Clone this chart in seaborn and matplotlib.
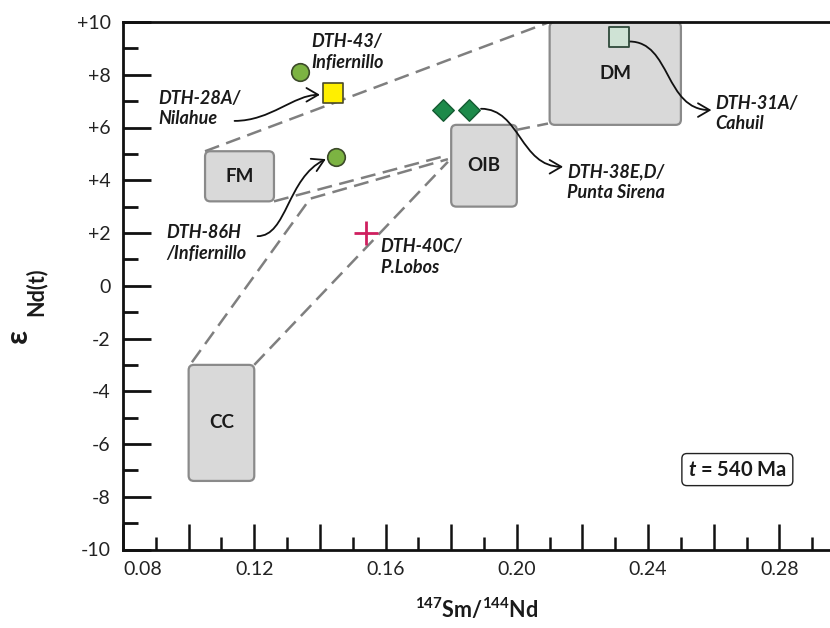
import matplotlib
matplotlib.use("Agg")
import matplotlib.pyplot as plt
import numpy as np
import pandas as pd
import seaborn as sns
from matplotlib.patches import FancyBboxPatch, FancyArrowPatch
from matplotlib.path import Path
from matplotlib.ticker import MultipleLocator, FuncFormatter

# --- reservoir fields (147Sm/144Nd range, eNd range) ---
field_names = ["CC", "FM", "OIB", "DM"]
field_x0 = [0.100, 0.105, 0.180, 0.210]
field_x1 = [0.120, 0.126, 0.200, 0.250]
field_y0 = [-7.4, 3.2, 3.0, 6.1]
field_y1 = [-3.0, 5.1, 6.1, 10.0]

# --- mixing lines between reservoirs ---
fm_dm_x = [0.105, 0.210]
fm_dm_y = [5.1, 10.0]
fm_oib_x = [0.126, 0.179]
fm_oib_y = [3.2, 4.95]
cc_oib_upper_x = [0.101, 0.137, 0.179]
cc_oib_upper_y = [-2.9, 3.3, 4.8]
cc_oib_lower_x = [0.120, 0.179]
cc_oib_lower_y = [-3.0, 4.7]
oib_dm_x = [0.1995, 0.2095]
oib_dm_y = [5.9, 6.15]

# --- samples ---
sample_names = ["DTH-43", "DTH-28A", "DTH-86H", "DTH-40C", "DTH-38E", "DTH-38D", "DTH-31A"]
sample_sm_nd = [0.134, 0.144, 0.145, 0.154, 0.1775, 0.1853, 0.231]
sample_end = [8.1, 7.3, 4.9, 2.0, 6.65, 6.65, 9.45]
sample_group = ["Infiernillo", "Nilahue", "Infiernillo", "P.Lobos",
                "Punta Sirena", "Punta Sirena", "Cahuil"]

# --- sample annotations ---
label_text = ["DTH-43/\nInfiernillo", "DTH-28A/\nNilahue", "DTH-86H\n/Infiernillo",
              "DTH-40C/\nP.Lobos", "DTH-38E,D/\nPunta Sirena", "DTH-31A/\nCahuil"]
label_x = [0.1373, 0.0907, 0.0931, 0.1584, 0.2153, 0.2605]
label_y = [8.87, 6.72, 1.62, 1.09, 3.94, 6.53]

yticks = list(range(-10, 11, 2))

samples = pd.DataFrame({"name": sample_names, "sm_nd": sample_sm_nd,
                        "end": sample_end, "group": sample_group})

sns.set_style("white")
plt.rcParams["font.family"] = ["Lato", "DejaVu Sans"]
plt.rcParams["mathtext.fontset"] = "custom"
plt.rcParams["mathtext.rm"] = "Lato:bold"
plt.rcParams["mathtext.bf"] = "Lato:bold"
plt.rcParams["mathtext.it"] = "Lato:italic:bold"

fig = plt.figure(figsize=(8.30, 6.28), dpi=100)
fig.patch.set_facecolor("white")
ax = fig.add_axes([123 / 830, (628 - 549.5) / 628, 722 / 830, 527.5 / 628])
ax.set_xlim(0.08, 0.30)
ax.set_ylim(-10, 10)

# reservoir boxes (rounded), aspect-corrected corners
aspect = (20 / 527.5) / (0.22 / 722)
for name, x0, x1, y0, y1 in zip(field_names, field_x0, field_x1, field_y0, field_y1):
    box = FancyBboxPatch((x0, y0), x1 - x0, y1 - y0,
                         boxstyle="round,pad=0,rounding_size=0.0016",
                         mutation_aspect=aspect, fc="#d9d9d9", ec="#8a8a8a",
                         lw=1.6, zorder=2)
    ax.add_patch(box)
    ax.text((x0 + x1) / 2, (y0 + y1) / 2, name, ha="center", va="center",
            fontsize=13.5, fontweight="bold", color="#1a1a1a", zorder=3)

# dashed mixing lines
dash_kw = dict(color="#7f7f7f", lw=1.8, ls=(0, (6, 3)), zorder=1)
for xs, ys in [(fm_dm_x, fm_dm_y), (fm_oib_x, fm_oib_y),
               (cc_oib_upper_x, cc_oib_upper_y), (cc_oib_lower_x, cc_oib_lower_y),
               (oib_dm_x, oib_dm_y)]:
    ax.plot(xs, ys, **dash_kw)

# sample symbols
styles = {
    "Infiernillo": dict(marker="o", color="#7cb342", edgecolor="#3c4a2a", s=160, linewidth=1.2),
    "Nilahue": dict(marker="s", color="#ffef00", edgecolor="#4a4a2a", s=200, linewidth=1.2),
    "P.Lobos": dict(marker="+", color="#cf1f5f", edgecolor="#cf1f5f", s=320, linewidth=2.0),
    "Punta Sirena": dict(marker="D", color="#1d8a4a", edgecolor="#145a32", s=120, linewidth=1.0),
    "Cahuil": dict(marker="s", color="#cfe3d5", edgecolor="#2f4a3a", s=210, linewidth=1.3),
}
for grp, kw in styles.items():
    sns.scatterplot(data=samples[samples["group"] == grp], x="sm_nd", y="end",
                    ax=ax, legend=False, zorder=5, **kw)

# sample labels
for txt, x, y in zip(label_text, label_x, label_y):
    ax.text(x, y, txt, ha="left", va="center", fontsize=13, fontweight="bold",
            fontstyle="italic", color="#1a1a1a", linespacing=1.25, zorder=6)

# curved leader arrows (cubic Bezier paths)
leaders = [
    [(0.1140, 6.25), (0.1250, 6.25), (0.1320, 7.24), (0.1400, 7.24)],
    [(0.1210, 1.88), (0.1300, 1.88), (0.1300, 4.10), (0.1418, 4.80)],
    [(0.1891, 6.71), (0.2010, 6.71), (0.2010, 4.51), (0.2141, 4.51)],
    [(0.2343, 9.26), (0.2470, 9.26), (0.2450, 6.66), (0.2593, 6.66)],
]
codes = [Path.MOVETO, Path.CURVE4, Path.CURVE4, Path.CURVE4]
for verts in leaders:
    arr = FancyArrowPatch(path=Path(verts, codes),
                          arrowstyle="->,head_length=0.6,head_width=0.35",
                          mutation_scale=14, lw=1.3, color="#111111", zorder=4)
    ax.add_patch(arr)

# age box
ax.text(0.2672, -6.97, r"$t$ = 540 Ma", ha="center", va="center", fontsize=14.5,
        fontweight="bold", color="#1a1a1a", zorder=6,
        bbox=dict(boxstyle="round,pad=0.3,rounding_size=0.25", fc="white",
                  ec="#222222", lw=1.0))

# axes styling
for side in ["left", "bottom", "top"]:
    ax.spines[side].set_linewidth(2.0)
    ax.spines[side].set_color("#111111")
ax.spines["right"].set_visible(False)

ax.set_yticks(yticks)
ax.yaxis.set_minor_locator(MultipleLocator(1))
ax.yaxis.set_major_formatter(FuncFormatter(lambda v, p: f"+{v:.0f}" if v > 0 else f"{v:.0f}"))
ax.xaxis.set_major_locator(MultipleLocator(0.02))
ax.xaxis.set_minor_locator(MultipleLocator(0.01))
ax.xaxis.set_major_formatter(FuncFormatter(
    lambda v, p: f"{v:.2f}" if abs(round(v * 100) % 4) == 0 else ""))

ax.tick_params(axis="y", which="major", direction="in", length=20, width=2.0,
               labelsize=14, pad=9, left=True, right=False, colors="#111111",
               labelcolor="#222222")
ax.tick_params(axis="y", which="minor", direction="in", length=10.5, width=2.0,
               left=True, right=False, colors="#111111")
ax.tick_params(axis="x", which="major", direction="in", length=18.5, width=1.8,
               labelsize=14, pad=8, bottom=True, top=False, colors="#111111",
               labelcolor="#222222")
ax.tick_params(axis="x", which="minor", direction="in", length=9.5, width=1.8,
               bottom=True, top=False, colors="#111111")

# first x label sits just right of the spine
fig.canvas.draw()
for lab in ax.get_xticklabels():
    if lab.get_text() == "0.08":
        lab.set_horizontalalignment("left")

ax.set_xlabel(r"$^{147}$Sm/$^{144}$Nd", fontsize=15.5, fontweight="bold", color="#1a1a1a")
ax.xaxis.set_label_coords((477 - 123) / 722, (549.5 - 597) / 527.5)
ax.set_ylabel("")
fig.text(18 / 830, 1 - 336 / 628, "ε", rotation=90, ha="center", va="center",
         fontsize=22, fontweight="bold", color="#1a1a1a")
fig.text(36 / 830, 1 - 292 / 628, "Nd(t)", rotation=90, ha="center", va="center",
         fontsize=15.5, fontweight="bold", color="#1a1a1a")

fig.savefig("out.png", dpi=100, facecolor="white")
